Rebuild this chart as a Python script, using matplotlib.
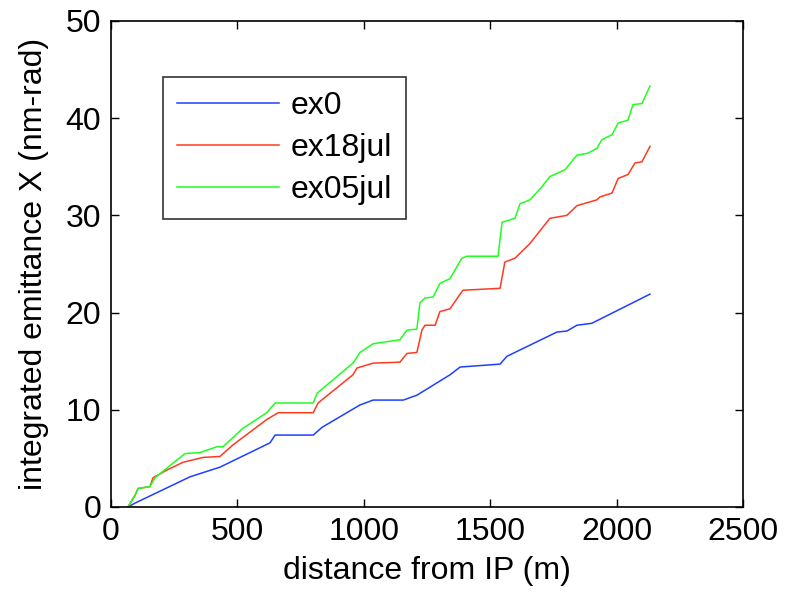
import numpy as np
import matplotlib
matplotlib.use("Agg")
import matplotlib.pyplot as plt

plt.rcParams["font.family"] = ["Liberation Sans", "DejaVu Sans"]

# distance from IP (m) and integrated emittance (nm-rad)
ex0_x = [67, 95, 312, 431, 629, 649, 800, 835, 985, 1037, 1156, 1210, 1341,
         1381, 1539, 1566, 1764, 1803, 1843, 1902, 2132]
ex0_y = [0.0, 0.4, 3.1, 4.1, 6.6, 7.4, 7.4, 8.2, 10.5, 11.0, 11.0, 11.5, 13.6,
         14.4, 14.7, 15.5, 18.0, 18.1, 18.7, 18.9, 21.9]

ex18_x = [67, 95, 107, 154, 166, 221, 285, 364, 431, 483, 616, 661, 800, 819,
          957, 973, 1037, 1143, 1171, 1210, 1230, 1242, 1282, 1301, 1341, 1392,
          1539, 1558, 1598, 1657, 1736, 1803, 1843, 1922, 1934, 1982, 2006, 2045,
          2073, 2100, 2132]
ex18_y = [0.0, 1.2, 1.9, 2.1, 3.0, 3.8, 4.6, 5.1, 5.2, 6.4, 9.0, 9.7, 9.7, 10.7,
          13.6, 14.3, 14.8, 14.9, 15.8, 15.9, 18.2, 18.7, 18.7, 20.1, 20.4, 22.3,
          22.5, 25.2, 25.6, 27.1, 29.7, 30.0, 31.0, 31.6, 31.9, 32.3, 33.8, 34.2,
          35.4, 35.5, 37.1]

ex05_x = [67, 95, 107, 154, 174, 245, 293, 352, 419, 443, 522, 616, 649, 800,
          815, 957, 985, 1037, 1143, 1171, 1210, 1222, 1242, 1274, 1301, 1341,
          1388, 1408, 1531, 1547, 1598, 1618, 1657, 1700, 1736, 1796, 1843, 1887,
          1922, 1942, 1982, 2006, 2045, 2065, 2100, 2132]
ex05_y = [0.0, 1.2, 1.9, 2.1, 3.0, 4.5, 5.5, 5.6, 6.2, 6.2, 8.1, 9.7, 10.7, 10.7,
          11.7, 14.8, 15.9, 16.8, 17.2, 18.2, 18.3, 21.0, 21.5, 21.6, 23.0, 23.5,
          25.6, 25.8, 25.8, 29.3, 29.7, 31.2, 31.6, 32.8, 34.0, 34.7, 36.2, 36.4,
          36.9, 37.8, 38.3, 39.5, 39.8, 41.4, 41.5, 43.3]


def main():
    fig = plt.figure(figsize=(7.85, 5.96), dpi=100)
    ax = fig.add_axes([111 / 785, 1 - 507 / 596, 632 / 785, 486 / 596])

    ax.plot(ex0_x, ex0_y, "-", color="#1f3fff", lw=1.1, label="ex0")
    ax.plot(ex18_x, ex18_y, "-", color="#ff3a1f", lw=1.1, label="ex18jul")
    ax.plot(ex05_x, ex05_y, "-", color="#1fff1f", lw=1.1, label="ex05jul")

    ax.set_xlim(0, 2500)
    ax.set_ylim(0, 50)
    ax.set_xticks(np.arange(0, 2501, 500))
    ax.set_yticks(np.arange(0, 51, 10))
    ax.tick_params(direction="in", top=True, right=True, length=6, width=1,
                   labelsize=23, pad=7)
    for s in ax.spines.values():
        s.set_linewidth(1.2)

    ax.set_xlabel("distance from IP (m)", fontsize=23, labelpad=7)
    ax.set_ylabel("integrated emittance X (nm-rad)", fontsize=23, labelpad=12)

    leg = ax.legend(loc="upper left", bbox_to_anchor=(0.082, 0.885),
                    borderaxespad=0, fontsize=23, fancybox=False,
                    framealpha=1, edgecolor="#333333", handlelength=3.2,
                    handletextpad=0.35, labelspacing=0.37, borderpad=0.45)
    leg.get_frame().set_linewidth(1.2)

    fig.savefig("out.png", dpi=100)
    plt.close("all")


if __name__ == "__main__":
    main()
